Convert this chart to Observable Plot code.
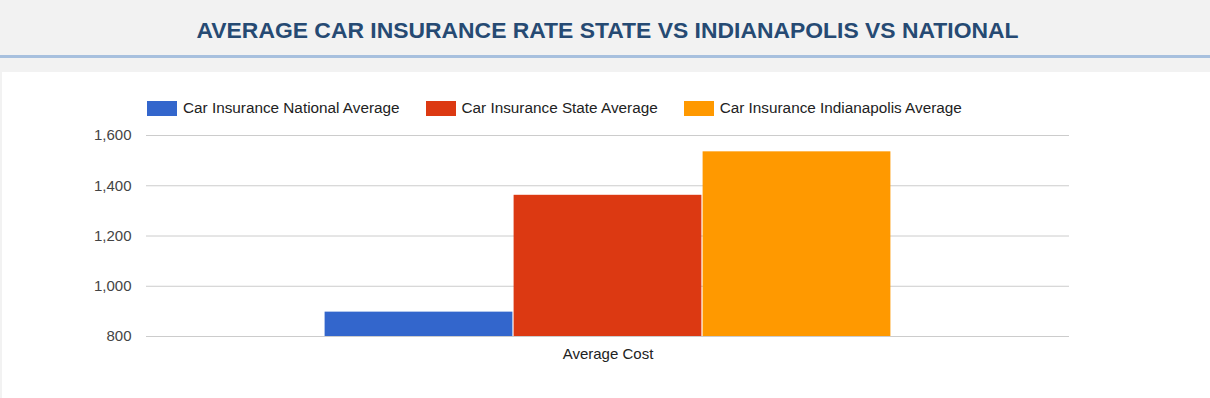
<!DOCTYPE html>
<html>
<head>
<meta charset="utf-8">
<script src="https://cdn.jsdelivr.net/npm/d3@7"></script>
<script src="https://cdn.jsdelivr.net/npm/@observablehq/plot@0.6"></script>
<style>
  html, body { margin: 0; padding: 0; }
  body { width: 1210px; height: 398px; background: #f2f2f2; position: relative; overflow: hidden; font-family: "Liberation Sans", Arial, sans-serif; }
  #header { position: absolute; left: 0; top: 0; width: 1210px; height: 55px; border-bottom: 3px solid #a7c0de; }
  #title { position: absolute; left: 0; width: 1215px; top: 17px; text-align: center; font-size: 22.9px; font-weight: bold; color: #264a73; }
  #card { position: absolute; left: 2px; top: 72px; width: 1208px; height: 326px; background: #fff; }
  #legend { position: absolute; left: 147px; top: 99px; display: flex; align-items: center; font-size: 15.3px; color: #222; }
  .item { display: flex; align-items: center; margin-right: 26px; }
  .sw { width: 30px; height: 15px; margin-right: 6px; }
  #chart { position: absolute; left: 0; top: 120px; }
</style>
</head>
<body>
<div id="header"><div id="title">AVERAGE CAR INSURANCE RATE STATE VS INDIANAPOLIS VS NATIONAL</div></div>
<div id="card"></div>
<div id="legend"></div>
<div id="chart"></div>
<script>
const category = "Average Cost";
const series = ["Car Insurance National Average", "Car Insurance State Average", "Car Insurance Indianapolis Average"];
const values = [897, 1362, 1535];
const colors = ["#3366cc", "#dc3912", "#ff9900"];
const yTicks = [800, 1000, 1200, 1400, 1600];

const data = series.map((s, i) => ({series: s, value: values[i], category}));

// legend
const legend = document.getElementById("legend");
series.forEach((s, i) => {
  const it = document.createElement("div");
  it.className = "item";
  const sw = document.createElement("div");
  sw.className = "sw";
  sw.style.background = colors[i];
  const t = document.createElement("span");
  t.textContent = s;
  it.appendChild(sw); it.appendChild(t);
  legend.appendChild(it);
});

const width = 1210, marginLeft = 146, marginRight = 141;
const frameW = width - marginLeft - marginRight;
const groupFrac = 0.615;
const gx0 = marginLeft + frameW * (1 - groupFrac) / 2;
const gx1 = gx0 + frameW * groupFrac;

const plot = Plot.plot({
  width,
  height: 246,
  marginLeft,
  marginRight,
  marginTop: 15,
  marginBottom: 30,
  style: {fontFamily: "'Liberation Sans', Arial, sans-serif", fontSize: "15px", background: "transparent"},
  x: {domain: series, range: [gx0, gx1], padding: 0, axis: null},
  y: {domain: [800, 1600], axis: null},
  color: {domain: series, range: colors},
  marks: [
    Plot.ruleY(yTicks, {stroke: "#cccccc", strokeWidth: 1}),
    Plot.barY(data, {x: "series", y: "value", fill: "series", insetLeft: 0.6, insetRight: 0.6, clip: true}),
    Plot.axisY(yTicks, {tickSize: 0, tickPadding: 15, tickFormat: d3.format(","), fill: "#444", fontSize: 15, label: null}),
    Plot.text([category], {frameAnchor: "bottom", dy: 22, fill: "#222", fontSize: 15})
  ]
});
document.getElementById("chart").appendChild(plot);
</script>
</body>
</html>
